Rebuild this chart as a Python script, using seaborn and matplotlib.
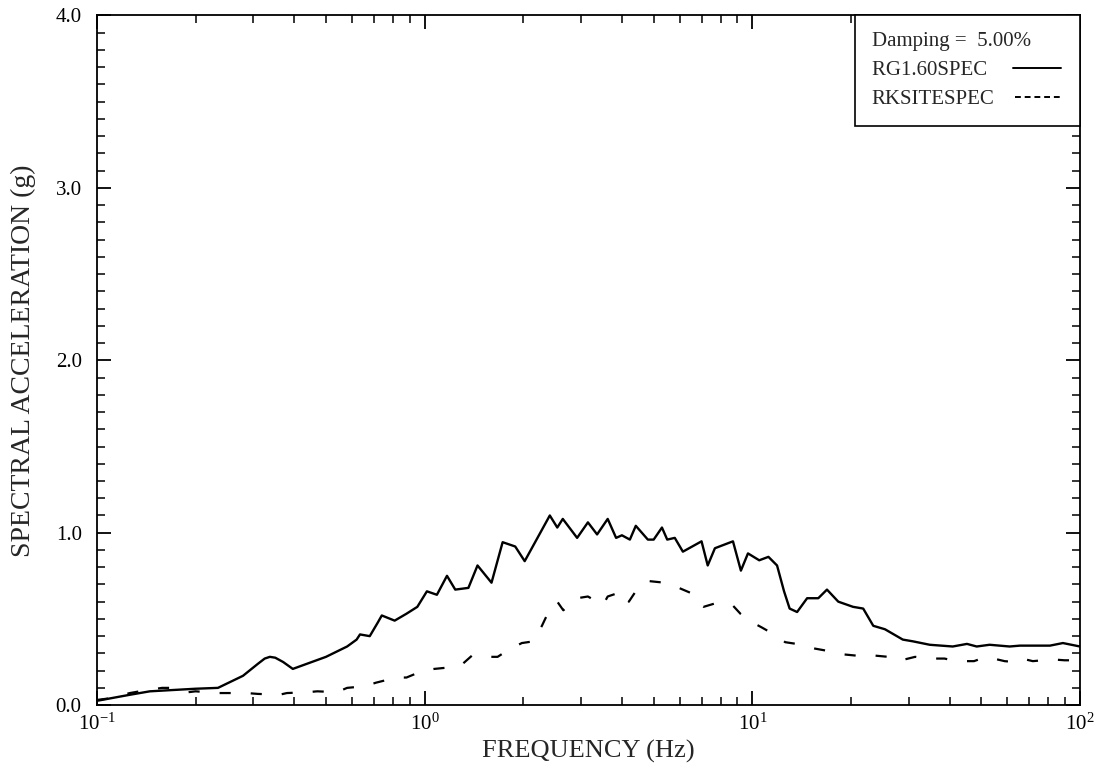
import numpy as np
import pandas as pd
import matplotlib
matplotlib.use("Agg")
import matplotlib.pyplot as plt
import matplotlib.ticker as mticker
from matplotlib.lines import Line2D
import seaborn as sns

# RG1.60SPEC (solid)
rg_freq = [0.1, 0.126, 0.145, 0.2, 0.234, 0.279, 0.31, 0.325, 0.337, 0.35, 0.37, 0.396,
           0.5, 0.58, 0.62, 0.635, 0.68, 0.72, 0.74, 0.81, 0.88, 0.95,
           1.016, 1.09, 1.17, 1.24, 1.36, 1.45, 1.60, 1.73, 1.89, 2.02,
           2.41, 2.54, 2.64, 2.92, 3.15, 3.36, 3.62, 3.84, 4.0, 4.23,
           4.41, 4.80, 5.0, 5.30, 5.5, 5.8, 6.14, 7.0, 7.31, 7.69,
           8.73, 9.23, 9.7, 10.5, 11.2, 11.9, 12.5, 13.0, 13.7, 14.7, 15.9,
           16.9, 18.3, 20.3, 21.8, 23.4, 25.4, 28.8, 30.9, 34.8, 40.9,
           45.2, 48.4, 53.0, 61.0, 65.6, 81.0, 88.7, 100.0]
rg_sa = [0.025, 0.06, 0.08, 0.095, 0.10, 0.17, 0.24, 0.27, 0.28, 0.275, 0.25, 0.21,
         0.28, 0.34, 0.38, 0.41, 0.40, 0.48, 0.52, 0.49, 0.53, 0.57,
         0.66, 0.64, 0.75, 0.67, 0.68, 0.81, 0.71, 0.945, 0.92, 0.835,
         1.10, 1.03, 1.08, 0.97, 1.06, 0.99, 1.08, 0.97, 0.985, 0.96,
         1.04, 0.96, 0.96, 1.03, 0.96, 0.97, 0.89, 0.95, 0.81, 0.91,
         0.95, 0.78, 0.88, 0.84, 0.86, 0.81, 0.66, 0.56, 0.54, 0.62, 0.62,
         0.67, 0.60, 0.57, 0.56, 0.46, 0.44, 0.38, 0.37, 0.35, 0.34,
         0.355, 0.34, 0.35, 0.34, 0.345, 0.345, 0.36, 0.34]

# RKSITESPEC (dashed)
rk_freq = [0.1, 0.11, 0.126, 0.135, 0.158, 0.167, 0.19, 0.20, 0.234, 0.25,
           0.286, 0.31, 0.36, 0.38, 0.44, 0.47, 0.54, 0.58, 0.66, 0.71,
           0.82, 0.88, 0.99, 1.07, 1.21, 1.29, 1.40, 1.53, 1.67, 1.80,
           1.98, 2.15, 2.28, 2.36, 2.54, 2.65, 2.92, 3.15, 3.50, 3.62,
           4.03, 4.2, 4.48, 4.8, 5.4, 5.8, 6.5, 6.8, 7.1, 7.7,
           8.7, 9.2, 10.0, 10.7, 11.9, 12.6, 14.2, 15.3, 17.5, 18.8,
           21.3, 22.8, 26.0, 27.8, 31.4, 34.0, 38.6, 42.0, 47.5, 51.7,
           58.9, 63.0, 66.5, 71.8, 82.6, 89.8, 100.0]
rk_sa = [0.03, 0.04, 0.07, 0.08, 0.10, 0.10, 0.075, 0.08, 0.07, 0.07,
         0.07, 0.065, 0.06, 0.07, 0.075, 0.08, 0.075, 0.10, 0.11, 0.13,
         0.16, 0.16, 0.20, 0.21, 0.22, 0.23, 0.29, 0.28, 0.28, 0.32,
         0.36, 0.37, 0.46, 0.52, 0.60, 0.55, 0.62, 0.63, 0.58, 0.63,
         0.66, 0.60, 0.68, 0.72, 0.71, 0.69, 0.65, 0.59, 0.57, 0.59,
         0.58, 0.53, 0.48, 0.45, 0.40, 0.365, 0.35, 0.33, 0.31, 0.295,
         0.285, 0.29, 0.28, 0.255, 0.28, 0.27, 0.27, 0.255, 0.255, 0.28,
         0.255, 0.25, 0.27, 0.255, 0.265, 0.26, 0.26]

series_labels = ["RG1.60SPEC", "RKSITESPEC"]

rg = pd.DataFrame({"freq": rg_freq, "sa": rg_sa})
rk = pd.DataFrame({"freq": rk_freq, "sa": rk_sa})

sns.set_style("ticks")
plt.rcParams["font.family"] = ["Liberation Serif", "DejaVu Serif"]
plt.rcParams["mathtext.fontset"] = "stix"

fig = plt.figure(figsize=(11.02, 7.74), dpi=100)
ax = fig.add_axes([0.088, 0.089, 0.892, 0.891])

sns.lineplot(data=rg, x="freq", y="sa", ax=ax, color="black", lw=1.7,
             estimator=None, sort=False)
sns.lineplot(data=rk, x="freq", y="sa", ax=ax, color="black", lw=1.6,
             estimator=None, sort=False, linestyle=(0, (5, 9)))

ax.set_xscale("log")
ax.set_xlim(0.1, 100)
ax.set_ylim(0, 4.0)
ax.yaxis.set_major_locator(mticker.MultipleLocator(1.0))
ax.yaxis.set_minor_locator(mticker.MultipleLocator(0.1))
ax.yaxis.set_major_formatter(mticker.FormatStrFormatter("%.1f"))

ax.set_xlabel("FREQUENCY (Hz)", fontsize=19, labelpad=4)
ax.set_ylabel("SPECTRAL ACCELERATION (g)", fontsize=20, labelpad=14)

for s in ax.spines.values():
    s.set_linewidth(1.3)
    s.set_color("black")
ax.tick_params(which="both", direction="in", top=True, right=True, colors="black")
ax.tick_params(which="major", length=10, width=1.3, labelsize=15)
ax.tick_params(axis="y", which="major", pad=11)
ax.tick_params(axis="x", which="major", pad=6)
ax.tick_params(which="minor", length=6, width=1.1)

handles = [Line2D([], [], color="black", lw=1.4),
           Line2D([], [], color="black", lw=1.4, linestyle=(0, (3, 2)))]
# trailing space on the shorter label keeps the line samples in one column
leg = ax.legend(handles, [series_labels[0] + " ", series_labels[1]],
                title="Damping =  5.00%",
                loc="upper right", borderaxespad=0, markerfirst=False,
                fancybox=False, edgecolor="black", framealpha=1,
                fontsize=15, title_fontsize=15, handlelength=2.3,
                alignment="left", borderpad=0.8, labelspacing=0.45,
                handletextpad=1.0)
leg.get_frame().set_linewidth(1.2)
for col in leg._legend_handle_box.get_children():
    col.align = "left"

fig.savefig("out.png", dpi=100)
